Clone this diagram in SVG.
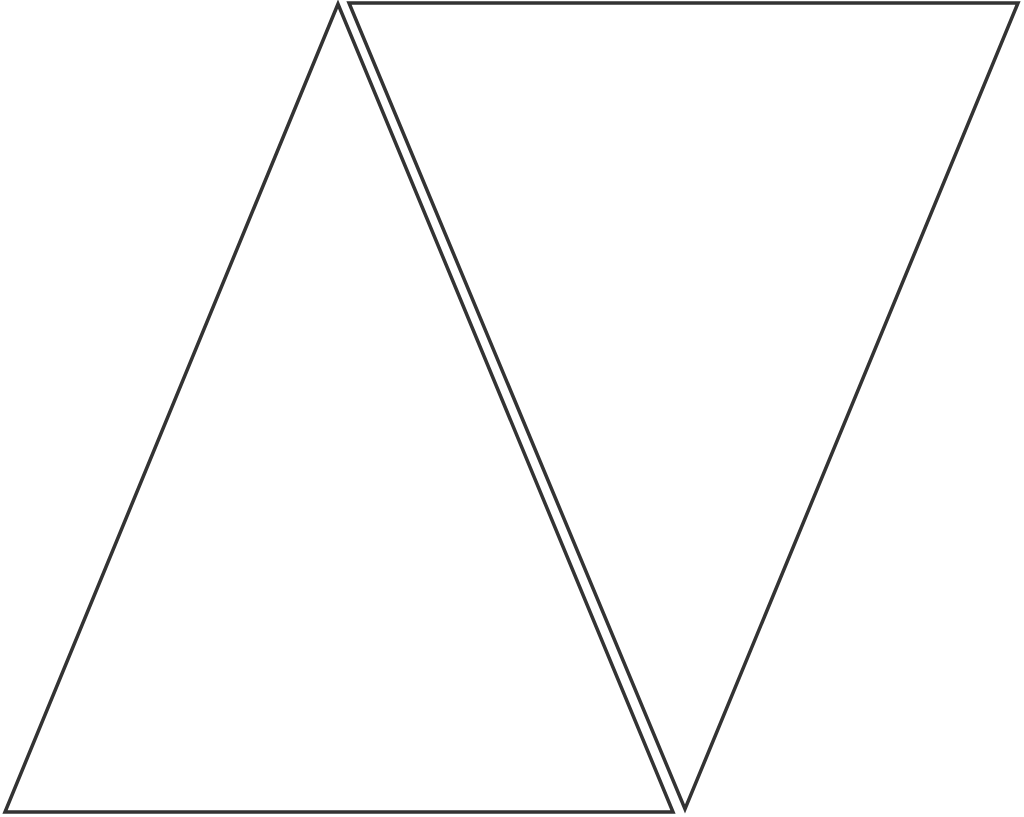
<svg xmlns="http://www.w3.org/2000/svg" width="1024" height="817" viewBox="0 0 1024 817">
<style>.t{fill:none;stroke:#333;stroke-width:3.5;stroke-linejoin:miter}</style>
<rect width="1024" height="817" fill="#fff"/>
<g id="left-triangle"><polygon class="t" points="338,4 5,812 673,812"/></g>
<g id="right-triangle"><polygon class="t" points="349,3 1018,3 685,809"/></g>
<g id="connectors"/>
</svg>
